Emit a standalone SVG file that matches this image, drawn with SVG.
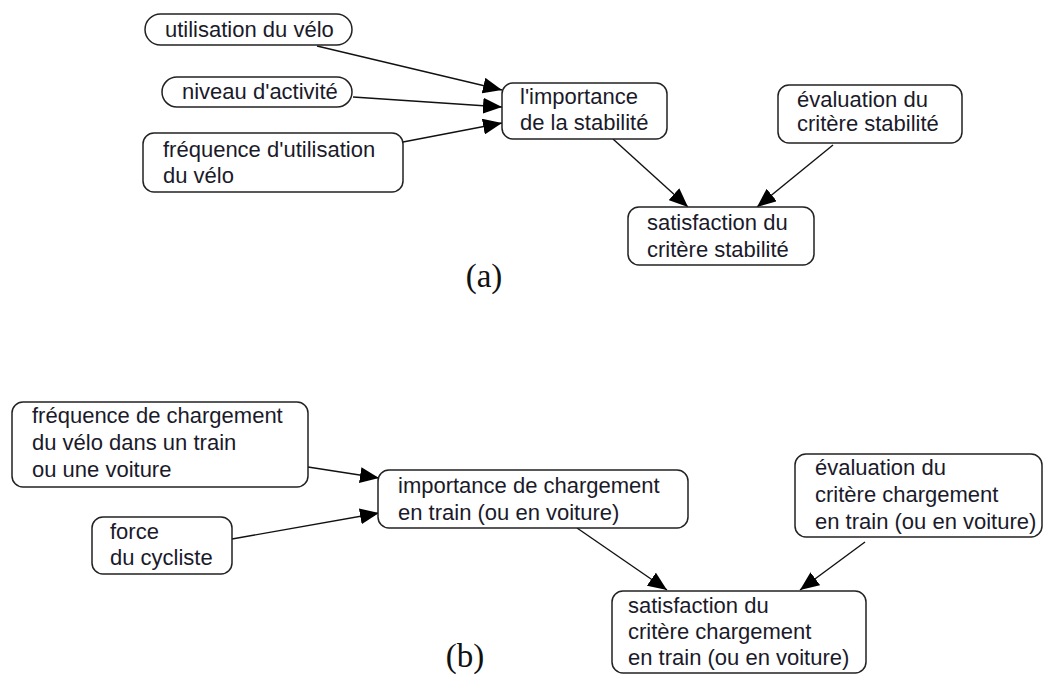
<svg xmlns="http://www.w3.org/2000/svg" width="1045" height="675" viewBox="0 0 1045 675">
<style>
.box{fill:#fff;stroke:#222;stroke-width:1.5}
.t{font-family:"Liberation Sans",Arial,sans-serif;font-size:22px;fill:#1a1a2a}
.lbl{font-family:"Liberation Serif","Times New Roman",serif;font-size:33px;fill:#111;text-anchor:middle}
.edge{stroke:#111;stroke-width:1.4;fill:none;marker-end:url(#ah)}
</style>
<defs>
<marker id="ah" markerUnits="userSpaceOnUse" markerWidth="20" markerHeight="16" refX="19" refY="8" orient="auto">
<path d="M0,0 L19,8 L0,16 z" fill="#000"/>
</marker>
</defs>
<rect width="1045" height="675" fill="#fff"/>
<g id="connectors">
<line class="edge" x1="317" y1="46" x2="502" y2="90"/>
<line class="edge" x1="353" y1="97" x2="502" y2="107"/>
<line class="edge" x1="403" y1="142" x2="502" y2="123"/>
<line class="edge" x1="613" y1="139" x2="688" y2="207"/>
<line class="edge" x1="833" y1="145" x2="757" y2="207"/>
<line class="edge" x1="308" y1="467" x2="379" y2="478"/>
<line class="edge" x1="232" y1="539" x2="379" y2="513"/>
<line class="edge" x1="577" y1="528" x2="667" y2="590"/>
<line class="edge" x1="865" y1="542" x2="800" y2="590"/>
</g>
<g id="a-utilisation">
<rect class="box" x="145" y="14" width="207" height="31" rx="15.5"/>
<text class="t" x="165" y="37">utilisation du vélo</text>
</g>
<g id="a-niveau">
<rect class="box" x="162" y="77" width="190" height="30" rx="15"/>
<text class="t" x="182" y="99">niveau d'activité</text>
</g>
<g id="a-frequence">
<rect class="box" x="143" y="133" width="260" height="59" rx="11"/>
<text class="t" x="163" y="157">fréquence d'utilisation</text>
<text class="t" x="163" y="183">du vélo</text>
</g>
<g id="a-importance">
<rect class="box" x="502" y="83" width="165" height="56" rx="11"/>
<text class="t" x="520" y="104">l'importance</text>
<text class="t" x="520" y="130">de la stabilité</text>
</g>
<g id="a-evaluation">
<rect class="box" x="778" y="85" width="184" height="58" rx="11"/>
<text class="t" x="797" y="107">évaluation du</text>
<text class="t" x="797" y="131">critère stabilité</text>
</g>
<g id="a-satisfaction">
<rect class="box" x="628" y="207" width="186" height="58" rx="11"/>
<text class="t" x="647" y="230">satisfaction du</text>
<text class="t" x="647" y="257">critère stabilité</text>
</g>
<text class="lbl" x="484" y="287">(a)</text>
<g id="b-frequence">
<rect class="box" x="12" y="402" width="296" height="85" rx="11"/>
<text class="t" x="32" y="423">fréquence de chargement</text>
<text class="t" x="32" y="450">du vélo dans un train</text>
<text class="t" x="32" y="477">ou une voiture</text>
</g>
<g id="b-force">
<rect class="box" x="92" y="517" width="140" height="57" rx="11"/>
<text class="t" x="110" y="539">force</text>
<text class="t" x="110" y="565">du cycliste</text>
</g>
<g id="b-importance">
<rect class="box" x="378" y="470" width="310" height="58" rx="11"/>
<text class="t" x="398" y="493">importance de chargement</text>
<text class="t" x="398" y="520">en train (ou en voiture)</text>
</g>
<g id="b-evaluation">
<rect class="box" x="795" y="454" width="247" height="83" rx="11"/>
<text class="t" x="815" y="475">évaluation du</text>
<text class="t" x="815" y="502">critère chargement</text>
<text class="t" x="815" y="529">en train (ou en voiture)</text>
</g>
<g id="b-satisfaction">
<rect class="box" x="612" y="591" width="254" height="82" rx="11"/>
<text class="t" x="628" y="613">satisfaction du</text>
<text class="t" x="628" y="639">critère chargement</text>
<text class="t" x="628" y="665">en train (ou en voiture)</text>
</g>
<text class="lbl" x="465" y="667">(b)</text>
</svg>
